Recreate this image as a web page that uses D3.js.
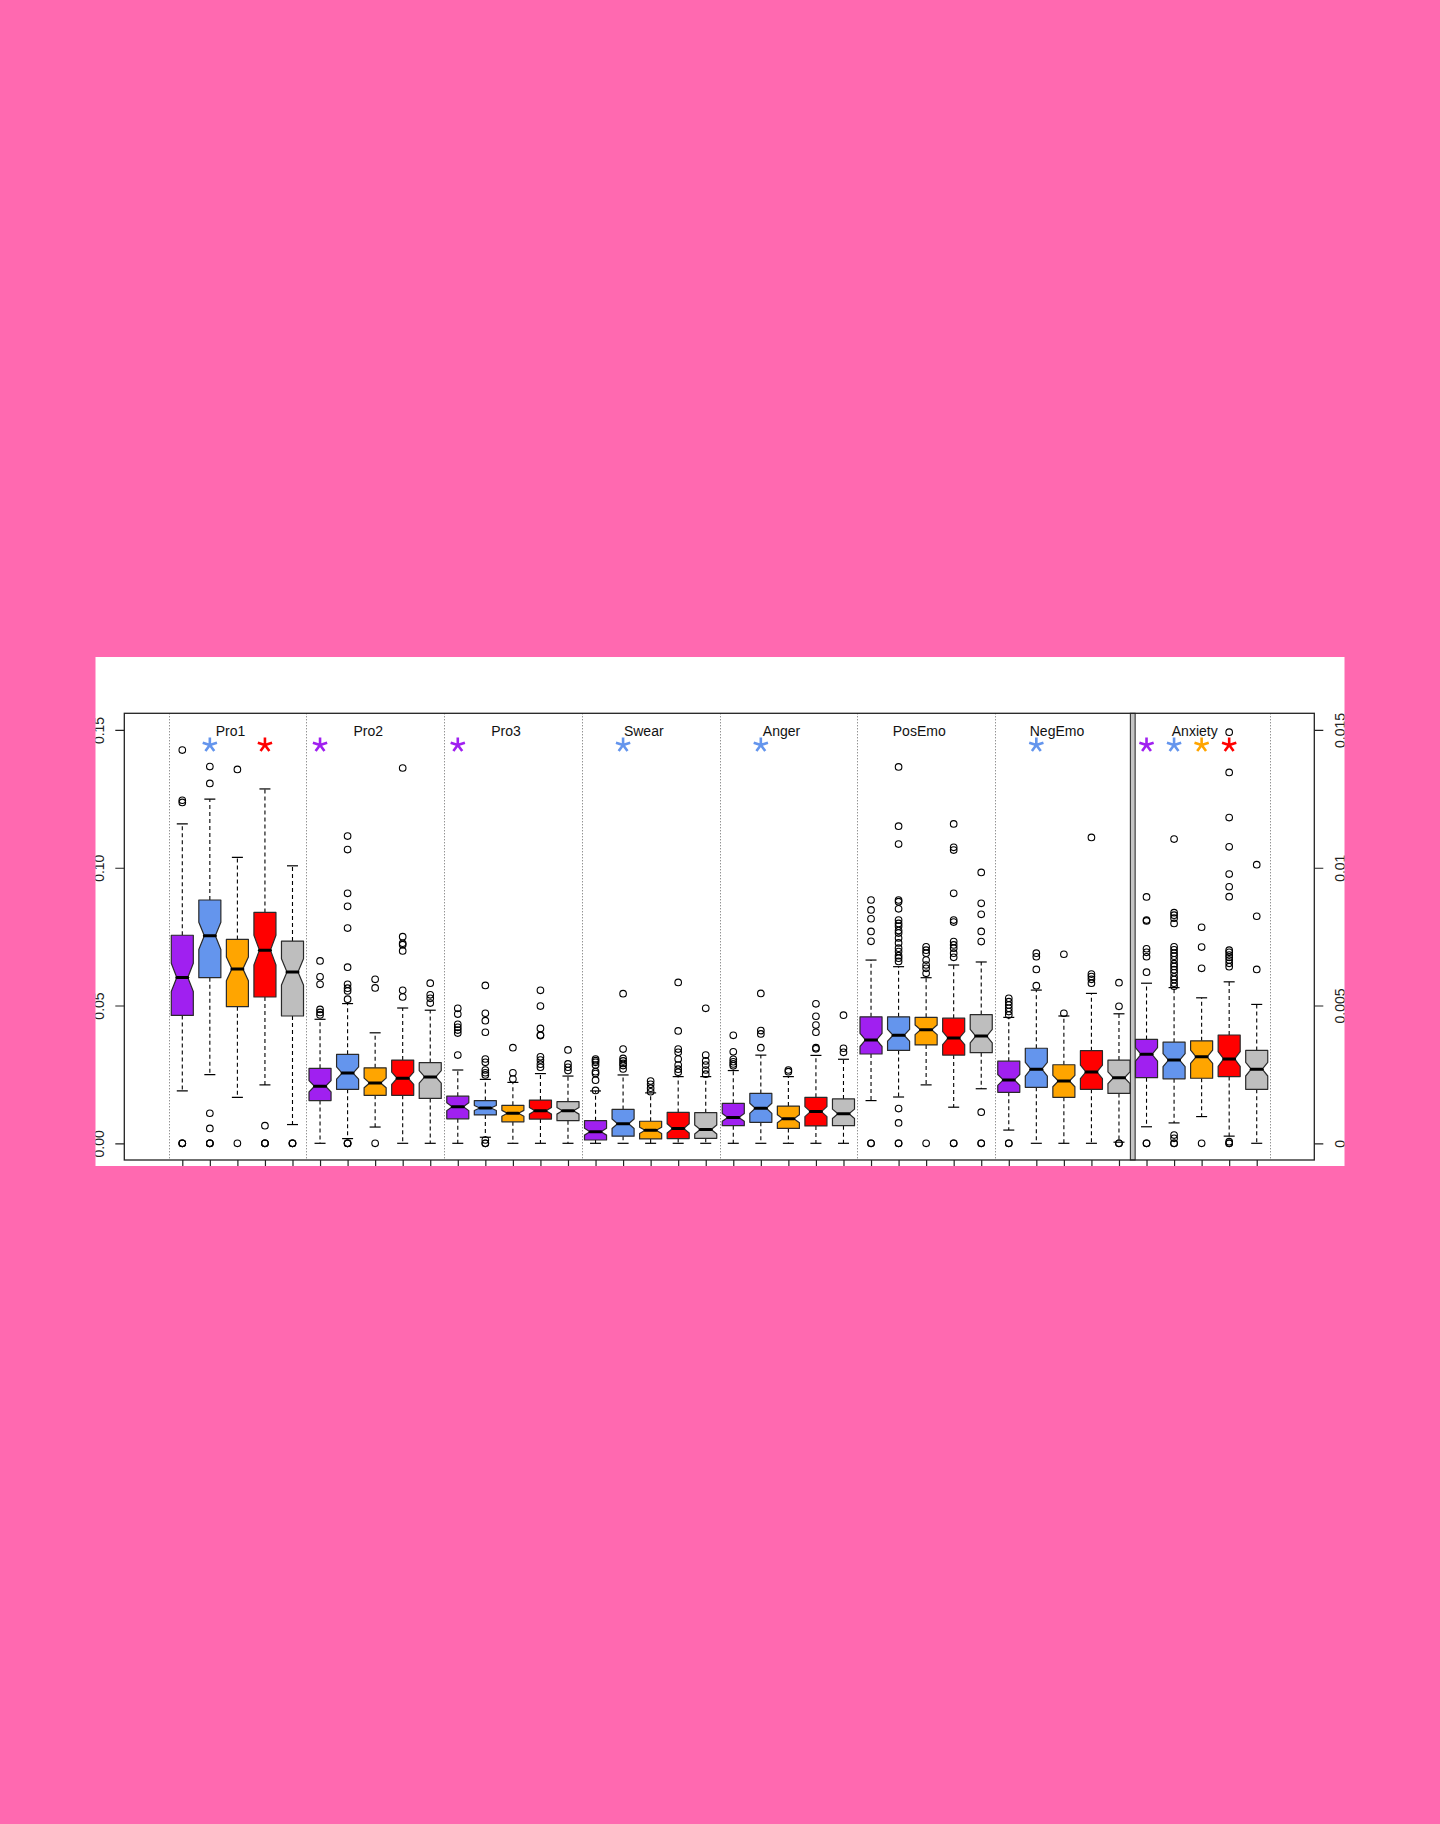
<!DOCTYPE html>
<meta charset="utf-8">
<title>Word category boxplots</title>
<style>
body {
  margin: 0;
  background: #ff69b0;
}
svg {
  display: block;
}
text {
  font-family: "Liberation Sans", Arial, Helvetica, sans-serif;
}
</style>
<body></body>
<script src="https://d3js.org/d3.v7.min.js"></script>
<script>
// categories and series
var groups = ['Pro1', 'Pro2', 'Pro3', 'Swear', 'Anger', 'PosEmo', 'NegEmo', 'Anxiety'];
var seriesColors = ['#a020f0', '#6495ed', '#ffa500', '#ff0000', '#bebebe'];

// five-number summaries per series: [lower whisker, Q1, median, Q3, upper whisker]
var statsPro1 = [[0.0190, 0.0464, 0.0602, 0.0755, 0.1159], [0.0249, 0.0601, 0.0753, 0.0883, 0.1249],
  [0.0167, 0.0496, 0.0633, 0.0740, 0.1038], [0.0212, 0.0531, 0.0701, 0.0838, 0.1286], [0.0068, 0.0462, 0.0622, 0.0734, 0.1007]];
var statsPro2 = [[0, 0.0155, 0.0207, 0.0272, 0.0450], [0.0017, 0.0196, 0.0255, 0.0323, 0.0507],
  [0.0059, 0.0174, 0.0219, 0.0274, 0.0401], [0, 0.0174, 0.0236, 0.0302, 0.0491], [0, 0.0163, 0.0241, 0.0293, 0.0483]];
var statsPro3 = [[0, 0.0089, 0.0133, 0.0171, 0.0266], [0.0022, 0.0103, 0.0128, 0.0155, 0.0232],
  [0, 0.0078, 0.0109, 0.0138, 0.0221], [0, 0.0088, 0.0118, 0.0157, 0.0253], [0, 0.0082, 0.0118, 0.0151, 0.0244]];
var statsSwear = [[0, 0.0012, 0.0042, 0.0082, 0.0190], [0, 0.0026, 0.0071, 0.0123, 0.0248],
  [0, 0.0016, 0.0047, 0.0080, 0.0183], [0, 0.0017, 0.0054, 0.0112, 0.0242], [0, 0.0018, 0.0050, 0.0111, 0.0242]];
var statsAnger = [[0, 0.0064, 0.0094, 0.0145, 0.0264], [0, 0.0076, 0.0127, 0.0181, 0.0320],
  [0, 0.0054, 0.0089, 0.0135, 0.0242], [0, 0.0063, 0.0115, 0.0167, 0.0319], [0, 0.0064, 0.0107, 0.0161, 0.0305]];
var statsPosEmo = [[0.0155, 0.0324, 0.0375, 0.0459, 0.0665], [0.0168, 0.0337, 0.0392, 0.0459, 0.0641],
  [0.0212, 0.0357, 0.0412, 0.0457, 0.0601], [0.0131, 0.0320, 0.0382, 0.0454, 0.0647], [0.0198, 0.0329, 0.0389, 0.0467, 0.0658]];
var statsNegEmo = [[0.0048, 0.0185, 0.0230, 0.0298, 0.0457], [0, 0.0203, 0.0269, 0.0345, 0.0556],
  [0, 0.0167, 0.0226, 0.0285, 0.0462], [0, 0.0196, 0.0259, 0.0336, 0.0544], [0.0004, 0.0181, 0.0238, 0.0302, 0.0470]];
// Anxiety is read on the right-hand axis
var statsAnxiety = [[0.00060, 0.00238, 0.00323, 0.00377, 0.00581], [0.00074, 0.00234, 0.00302, 0.00367, 0.00565],
  [0.00097, 0.00236, 0.00314, 0.00372, 0.00528], [0.00026, 0.00242, 0.00306, 0.00393, 0.00586], [0, 0.00196, 0.00269, 0.00337, 0.00504]];

// outliers per series
var outPro1 = [[0.1427, 0.1245, 0.1237, 0, 0, 0], [0.1367, 0.1306, 0.0109, 0.0054, 0, 0, 0],
  [0.1357, 0], [0.0064, 0, 0, 0], [0, 0, 0]];
var outPro2 = [[0.0662, 0.0604, 0.0577, 0.0486, 0.0475, 0.0466],
  [0.1115, 0.1066, 0.0907, 0.0860, 0.0781, 0.0639, 0.0577, 0.0563, 0.0553, 0.0523, 0, 0, 0],
  [0.0595, 0.0564, 0], [0.1362, 0.0750, 0.0726, 0.0721, 0.0698, 0.0555, 0.0531], [0.0581, 0.0539, 0.0526, 0.0509]];
var outPro3 = [[0.0490, 0.0469, 0.0432, 0.0421, 0.0411, 0.0400, 0.0320],
  [0.0573, 0.0472, 0.0445, 0.0403, 0.0306, 0.0294, 0.0266, 0.0256, 0.0248, 0.0012, 0, 0],
  [0.0347, 0.0256, 0.0233], [0.0555, 0.0498, 0.0417, 0.0393, 0.0391, 0.0314, 0.0302, 0.0287, 0.0276],
  [0.0339, 0.0288, 0.0276, 0.0264]];
var outSwear = [[0.0306, 0.0300, 0.0294, 0.0284, 0.0260, 0.0253, 0.0229, 0.0192],
  [0.0543, 0.0342, 0.0308, 0.0299, 0.0290, 0.0282, 0.0270], [0.0226, 0.0214, 0.0200, 0.0187],
  [0.0584, 0.0408, 0.0342, 0.0330, 0.0306, 0.0284, 0.0269, 0.0258], [0.0490, 0.0320, 0.0299, 0.0284, 0.0266, 0.0251]];
var outAnger = [[0.0392, 0.0332, 0.0305, 0.0296, 0.0288, 0.0281], [0.0544, 0.0409, 0.0397, 0.0347],
  [0.0266, 0.0260], [0.0506, 0.0461, 0.0429, 0.0403, 0.0347, 0.0343], [0.0465, 0.0345, 0.0330]];
var outPosEmo = [[0.0883, 0.0847, 0.0815, 0.0769, 0.0733, 0, 0],
  [0.1366, 0.1151, 0.1086, 0.0883, 0.0877, 0.0851, 0.0810, 0.0798, 0.0788, 0.0772, 0.0763, 0.0745, 0.0727,
    0.0708, 0.0696, 0.0681, 0.0672, 0.0660, 0.0126, 0.0074, 0, 0],
  [0.0713, 0.0701, 0.0690, 0.0665, 0.0647, 0.0635, 0.0617, 0],
  [0.1159, 0.1074, 0.1064, 0.0907, 0.0810, 0.0803, 0.0732, 0.0720, 0.0708, 0.0690, 0.0675, 0, 0],
  [0.0983, 0.0871, 0.0831, 0.0769, 0.0732, 0.0113, 0, 0]];
var outNegEmo = [[0.0526, 0.0514, 0.0502, 0.0490, 0.0478, 0.0466, 0, 0], [0.0690, 0.0677, 0.0631, 0.0572],
  [0.0686, 0.0472], [0.1110, 0.0614, 0.0605, 0.0595, 0.0581], [0.0583, 0.0497, 0, 0]];
var outAnxiety = [[0.00894, 0.00810, 0.00807, 0.00706, 0.00693, 0.00677, 0.00621, 0, 0],
  [0.01104, 0.00837, 0.00828, 0.00817, 0.00798, 0.00713, 0.00702, 0.00690, 0.00679, 0.00666, 0.00652, 0.00642,
    0.00630, 0.00619, 0.00604, 0.00594, 0.00581, 0.00570, 0.00030, 0.00018, 0, 0],
  [0.00784, 0.00712, 0.00635, 0],
  [0.01492, 0.01346, 0.01182, 0.01076, 0.00977, 0.00931, 0.00895, 0.00701, 0.00693, 0.00683, 0.00675, 0.00665,
    0.00653, 0.00641, 0.00006, 0, 0],
  [0.01011, 0.00824, 0.00631]];

// series flagged with an asterisk in each group
var sigMarks = [[1, 3], [0], [0], [1], [1], [], [1], [0, 1, 2, 3]];

// axis ticks
var leftTicks = [0, 0.05, 0.10, 0.15];
var leftTickLabels = ['0.00', '0.05', '0.10', '0.15'];
var rightTicks = [0, 0.005, 0.01, 0.015];
var rightTickLabels = ['0', '0.005', '0.01', '0.015'];

var boxN = 81; // observations per box, used for notch width

var allStats = [statsPro1, statsPro2, statsPro3, statsSwear, statsAnger, statsPosEmo, statsNegEmo, statsAnxiety];
var allOut = [outPro1, outPro2, outPro3, outSwear, outAnger, outPosEmo, outNegEmo, outAnxiety];

var boxes = [];
groups.forEach(function(name, gi) {
  seriesColors.forEach(function(col, si) {
    var s = allStats[gi][si];
    boxes.push({
      idx: gi * 5 + si, group: gi, series: si, color: col,
      lo: s[0], q1: s[1], med: s[2], q3: s[3], hi: s[4],
      out: allOut[gi][si], right: name === 'Anxiety'
    });
  });
});

var panel = {x: 95.5, y: 657, w: 1249, h: 509};
var plot = {left: 124.3, right: 1314.3, top: 713.3, bottom: 1160};

var x = d3.scaleLinear().domain([-2.105, 41.09]).range([plot.left, plot.right]);
var yL = d3.scaleLinear().domain([-0.00606, 0.15605]).range([plot.bottom, plot.top]);
var yR = d3.scaleLinear().domain([-0.000606, 0.015605]).range([plot.bottom, plot.top]);

var svg = d3.select('body').append('svg')
  .attr('width', 1440)
  .attr('height', 1824);

svg.append('rect').attr('width', 1440).attr('height', 1824).attr('fill', '#ff69b0');

svg.append('clipPath').attr('id', 'panelClip')
  .append('rect')
  .attr('x', panel.x).attr('y', panel.y).attr('width', panel.w).attr('height', panel.h);

svg.append('rect')
  .attr('x', panel.x).attr('y', panel.y).attr('width', panel.w).attr('height', panel.h)
  .attr('fill', '#fff');

var g = svg.append('g').attr('clip-path', 'url(#panelClip)');

// group separators
var sepIdx = d3.range(9).map(function(i) { return i * 5 - 0.5; });
g.selectAll('line.sep')
  .data(sepIdx.filter(function(d) { return d !== 34.5; }))
  .enter().append('line')
  .attr('class', 'sep')
  .attr('x1', function(d) { return Math.round(x(d)) + 0.5; })
  .attr('x2', function(d) { return Math.round(x(d)) + 0.5; })
  .attr('y1', plot.top).attr('y2', plot.bottom)
  .attr('stroke', '#666')
  .attr('stroke-dasharray', '1,2');

// double rule before the right-axis group
g.append('rect')
  .attr('x', x(34.5) - 2.4).attr('y', plot.top)
  .attr('width', 4.8).attr('height', plot.bottom - plot.top)
  .attr('fill', '#c4c4c4')
  .attr('stroke', '#222').attr('stroke-width', 1);

var halfW = x(0.4) - x(0);

var bx = g.selectAll('g.box')
  .data(boxes)
  .enter().append('g')
  .attr('class', 'box');

function yOf(d) { return d.right ? yR : yL; }

// whiskers
bx.each(function(d) {
  var el = d3.select(this), y = yOf(d), cx = x(d.idx);
  [[d.q3, d.hi], [d.q1, d.lo]].forEach(function(p) {
    el.append('line')
      .attr('x1', cx).attr('x2', cx)
      .attr('y1', y(p[0])).attr('y2', y(p[1]))
      .attr('stroke', '#000').attr('stroke-width', 1.1)
      .attr('stroke-dasharray', '4,3');
    el.append('line')
      .attr('x1', cx - halfW / 2).attr('x2', cx + halfW / 2)
      .attr('y1', y(p[1])).attr('y2', y(p[1]))
      .attr('stroke', '#000').attr('stroke-width', 1.2);
  });
});

// notched boxes
bx.append('path')
  .attr('d', function(d) {
    var y = yOf(d), cx = x(d.idx);
    var nh = 1.58 * (d.q3 - d.q1) / Math.sqrt(boxN);
    var pts = [
      [cx - halfW, y(d.q1)], [cx + halfW, y(d.q1)], [cx + halfW, y(d.med - nh)],
      [cx + halfW / 2, y(d.med)], [cx + halfW, y(d.med + nh)], [cx + halfW, y(d.q3)],
      [cx - halfW, y(d.q3)], [cx - halfW, y(d.med + nh)], [cx - halfW / 2, y(d.med)],
      [cx - halfW, y(d.med - nh)]
    ];
    return d3.line()(pts) + 'Z';
  })
  .attr('fill', function(d) { return d.color; })
  .attr('stroke', '#2a2a2a')
  .attr('stroke-width', 1.2)
  .attr('stroke-linejoin', 'round');

// medians
bx.append('line')
  .attr('x1', function(d) { return x(d.idx) - halfW / 2; })
  .attr('x2', function(d) { return x(d.idx) + halfW / 2; })
  .attr('y1', function(d) { return yOf(d)(d.med); })
  .attr('y2', function(d) { return yOf(d)(d.med); })
  .attr('stroke', '#000')
  .attr('stroke-width', 3)
  .attr('stroke-linecap', 'round');

// outliers
bx.each(function(d) {
  var y = yOf(d);
  d3.select(this).selectAll('circle')
    .data(d.out)
    .enter().append('circle')
    .attr('cx', x(d.idx))
    .attr('cy', function(v) { return y(v); })
    .attr('r', 3.3)
    .attr('fill', 'none')
    .attr('stroke', '#000')
    .attr('stroke-width', 1.1);
});

// frame
g.append('rect')
  .attr('x', plot.left).attr('y', plot.top)
  .attr('width', plot.right - plot.left).attr('height', plot.bottom - plot.top)
  .attr('fill', 'none')
  .attr('stroke', '#222')
  .attr('stroke-width', 1.3);

// axes
var leftAxis = g.append('g')
  .attr('transform', 'translate(' + plot.left + ',0)')
  .call(d3.axisLeft(yL).tickValues(leftTicks)
    .tickFormat(function(d, i) { return leftTickLabels[i]; })
    .tickSize(9).tickSizeOuter(0));
var rightAxis = g.append('g')
  .attr('transform', 'translate(' + plot.right + ',0)')
  .call(d3.axisRight(yR).tickValues(rightTicks)
    .tickFormat(function(d, i) { return rightTickLabels[i]; })
    .tickSize(9).tickSizeOuter(0));
var bottomAxis = g.append('g')
  .attr('transform', 'translate(0,' + plot.bottom + ')')
  .call(d3.axisBottom(x).tickValues(d3.range(40)).tickFormat('').tickSize(7).tickSizeOuter(0));

[leftAxis, rightAxis, bottomAxis].forEach(function(a) {
  a.select('.domain').remove();
  a.attr('color', '#222').attr('font-size', 14).attr('font-family', null);
  a.selectAll('line').attr('stroke-width', 1.2);
});

// tick labels sit partly outside the white panel and get cut by it
leftAxis.selectAll('text')
  .attr('x', null).attr('dy', null)
  .attr('text-anchor', 'middle')
  .attr('fill', '#222')
  .attr('transform', 'translate(-20,0) rotate(-90)');
rightAxis.selectAll('text')
  .attr('x', null).attr('dy', null)
  .attr('text-anchor', 'middle')
  .attr('fill', '#222')
  .attr('transform', 'translate(31,0) rotate(-90)');

// group labels
g.selectAll('text.glabel')
  .data(groups)
  .enter().append('text')
  .attr('class', 'glabel')
  .attr('x', function(d, i) { return x(i * 5 + 1.75); })
  .attr('y', 735.5)
  .attr('text-anchor', 'middle')
  .attr('font-size', 14)
  .attr('fill', '#111')
  .text(function(d) { return d; });

// asterisks
var stars = [];
sigMarks.forEach(function(list, gi) {
  list.forEach(function(si) { stars.push({idx: gi * 5 + si, color: seriesColors[si]}); });
});
var arm = 7.5;
var starPath = d3.range(5).map(function(k) {
  var a = (-90 + k * 72) * Math.PI / 180;
  return 'M0,0L' + (arm * Math.cos(a)).toFixed(2) + ',' + (arm * Math.sin(a)).toFixed(2);
}).join('');
g.selectAll('path.star')
  .data(stars)
  .enter().append('path')
  .attr('class', 'star')
  .attr('transform', function(d) { return 'translate(' + x(d.idx) + ',745)'; })
  .attr('d', starPath)
  .attr('stroke', function(d) { return d.color; })
  .attr('stroke-width', 2.6)
  .attr('fill', 'none');
</script>
